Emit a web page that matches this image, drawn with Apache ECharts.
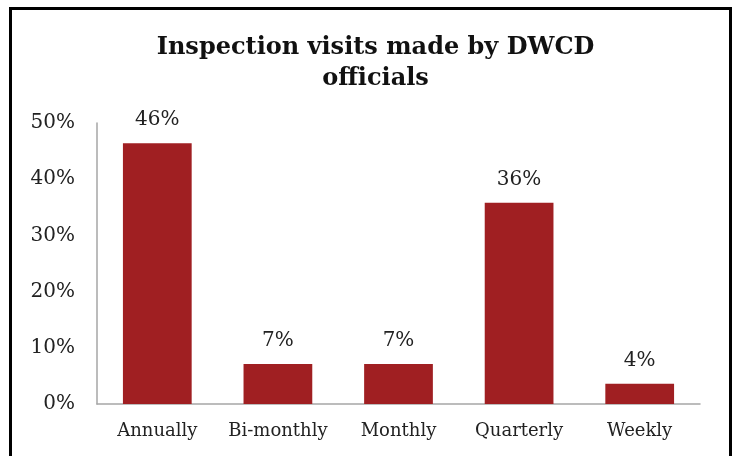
<!DOCTYPE html>
<html>
<head>
<meta charset="utf-8">
<script src="https://cdn.jsdelivr.net/npm/echarts@6/dist/echarts.min.js"></script>
<style>
  html, body { margin: 0; padding: 0; background: #fff; }
  #chart { width: 751px; height: 456px; }
</style>
</head>
<body>
<div id="chart"></div>
<script>
const categories = ["Annually", "Bi-monthly", "Monthly", "Quarterly", "Weekly"];
const shares = [46.4, 7.1, 7.1, 35.8, 3.6];
const yTicks = [0, 10, 20, 30, 40, 50];

const serif = "'DejaVu Serif', 'Liberation Serif', serif";
const chart = echarts.init(document.getElementById("chart"));
chart.setOption({
  animation: false,
  title: {
    text: "Inspection visits made by DWCD\nofficials",
    left: "center",
    top: 27,
    textStyle: {
      fontFamily: serif,
      fontSize: 24,
      fontWeight: "bold",
      color: "#111",
      lineHeight: 31
    }
  },
  graphic: [
    {
      type: "rect",
      shape: { x: 10.5, y: 8.5, width: 720, height: 470 },
      style: { fill: null, stroke: "#000", lineWidth: 3 }
    }
  ],
  grid: { left: 97, right: 51, top: 123, bottom: 52 },
  xAxis: {
    type: "category",
    data: categories,
    axisLine: { lineStyle: { color: "#a6a6a6", width: 1.5 } },
    axisTick: { show: false },
    axisLabel: {
      interval: 0,
      fontFamily: serif,
      fontSize: 18,
      color: "#222",
      margin: 18
    }
  },
  yAxis: {
    type: "value",
    min: yTicks[0],
    max: yTicks[yTicks.length - 1],
    interval: 10,
    splitLine: { show: false },
    axisLine: { show: true, lineStyle: { color: "#a6a6a6", width: 1.5 } },
    axisTick: { show: false },
    axisLabel: {
      fontFamily: serif,
      fontSize: 20,
      color: "#222",
      margin: 22,
      formatter: v => v + "%"
    }
  },
  series: [
    {
      type: "bar",
      data: shares,
      barWidth: "57%",
      itemStyle: { color: "#a01f22" },
      label: {
        show: true,
        position: "top",
        distance: 13,
        fontFamily: serif,
        fontSize: 20,
        color: "#222",
        formatter: p => Math.round(p.value) + "%"
      }
    }
  ]
});
</script>
</body>
</html>
